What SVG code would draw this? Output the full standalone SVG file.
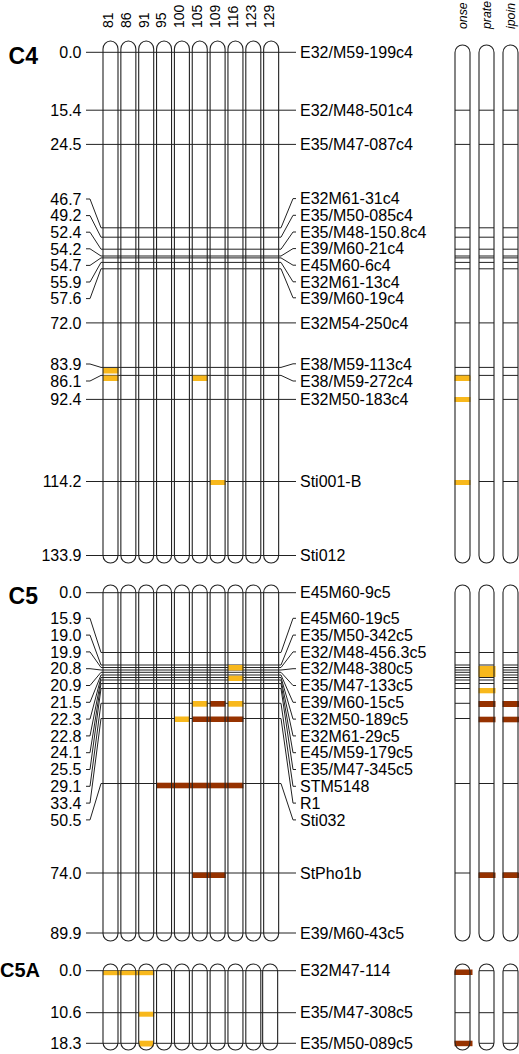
<svg xmlns="http://www.w3.org/2000/svg" xmlns:xlink="http://www.w3.org/1999/xlink" width="519" height="1054" viewBox="0 0 519 1054">
<style>
text{font-family:"Liberation Sans",Arial,sans-serif;fill:#000}
.lab{font-size:16px}
.end{text-anchor:end}
.hd{font-size:14px}
.tr{font-size:12.3px;font-style:italic}
.chn{font-size:23px;font-weight:bold;text-anchor:end}
.ln{fill:none;stroke:#222;stroke-width:1}
.chr{fill:none;stroke:#222;stroke-width:1.1}
.y{fill:#F8B81C}
.d{fill:#963200}
</style>
<defs>
<path id="c4m" d="M0,49 A7.5,8 0 0 1 15,49 V555.5 A7.5,7.5 0 0 1 0,555.5 Z"/>
<path id="c4t" d="M0,52.5 A7.5,7.5 0 0 1 15,52.5 V555.5 A7.5,7.5 0 0 1 0,555.5 Z"/>
<path id="c5" d="M0,592.5 A7.5,7.5 0 0 1 15,592.5 V933.5 A7.5,7.5 0 0 1 0,933.5 Z"/>
<path id="c5a" d="M0,971.5 A7.5,7.5 0 0 1 15,971.5 V1042.5 A7.5,7.5 0 0 1 0,1042.5 Z"/>
</defs>
<rect width="519" height="1054" fill="#fff"/>

<g id="headers">
<text class="hd" transform="translate(112.8,28) rotate(-90)">81</text>
<text class="hd" transform="translate(130.7,28) rotate(-90)">86</text>
<text class="hd" transform="translate(148.5,28) rotate(-90)">91</text>
<text class="hd" transform="translate(166.4,28) rotate(-90)">95</text>
<text class="hd" transform="translate(184.2,28) rotate(-90)">100</text>
<text class="hd" transform="translate(202.1,28) rotate(-90)">105</text>
<text class="hd" transform="translate(219.9,28) rotate(-90)">109</text>
<text class="hd" transform="translate(237.8,28) rotate(-90)">116</text>
<text class="hd" transform="translate(255.6,28) rotate(-90)">123</text>
<text class="hd" transform="translate(273.5,28) rotate(-90)">129</text>
<text class="tr" transform="translate(467,29) rotate(-90)">onse</text>
<text class="tr" transform="translate(491,29) rotate(-90)">prate</text>
<text class="tr" transform="translate(515,29) rotate(-90)">ipoin</text>
</g>

<g id="connectors">
<!-- C4 -->
<path class="ln" d="M86,52.3H296"/>
<path class="ln" d="M86,110.2H296"/>
<path class="ln" d="M86,144.4H296"/>
<path class="ln" d="M86,199H90L101,227.8H281L293,198.6H296"/>
<path class="ln" d="M86,215.6H90L101,237.2H281L293,215.3H296"/>
<path class="ln" d="M86,232.2H90L101,249.2H281L293,232H296"/>
<path class="ln" d="M86,248.8H90L101,256H281L293,248.6H296"/>
<path class="ln" d="M86,265.4H90L101,257.9H281L293,265.2H296"/>
<path class="ln" d="M86,282H90L101,262.4H281L293,281.8H296"/>
<path class="ln" d="M86,298.6H90L101,268.8H281L293,297.8H296"/>
<path class="ln" d="M86,322.9H296"/>
<path class="ln" d="M86,364H90L101,367.4H281L293,363.8H296"/>
<path class="ln" d="M86,381H90L101,375.4H281L293,381H296"/>
<path class="ln" d="M86,399.4H296"/>
<path class="ln" d="M86,481.5H296"/>
<path class="ln" d="M86,555.5H296"/>
<!-- C4 traits -->
<path class="ln" d="M455,110.2h15M479,110.2h15M503,110.2h15M455,144.4h15M479,144.4h15M503,144.4h15M455,227.8h15M479,227.8h15M503,227.8h15M455,237.2h15M479,237.2h15M503,237.2h15M455,249.2h15M479,249.2h15M503,249.2h15M455,256h15M479,256h15M503,256h15M455,257.9h15M479,257.9h15M503,257.9h15M455,262.4h15M479,262.4h15M503,262.4h15M455,268.8h15M479,268.8h15M503,268.8h15M455,322.9h15M479,322.9h15M503,322.9h15M455,367.4h15M479,367.4h15M503,367.4h15M455,375.4h15M479,375.4h15M503,375.4h15M455,399.4h15M479,399.4h15M503,399.4h15M455,481.5h15M479,481.5h15M503,481.5h15"/>
<!-- C5 -->
<path class="ln" d="M86,592.7H296"/>
<path class="ln" d="M86,618.3H90L101,652.5H281L293,618.3H296"/>
<path class="ln" d="M86,635.1H90L101,665H281L293,635.1H296"/>
<path class="ln" d="M86,651.9H90L101,667.5H281L293,651.9H296"/>
<path class="ln" d="M86,668.7H90L101,670H281L293,668.7H296"/>
<path class="ln" d="M86,685.5H90L101,672.3H281L293,685.5H296"/>
<path class="ln" d="M86,702.3H90L101,675H281L293,702.3H296"/>
<path class="ln" d="M86,719.1H90L101,677.5H281L293,719.1H296"/>
<path class="ln" d="M86,735.9H90L101,680H281L293,735.9H296"/>
<path class="ln" d="M86,752.7H90L101,683.5H281L293,752.7H296"/>
<path class="ln" d="M86,769.5H90L101,688.5H281L293,769.5H296"/>
<path class="ln" d="M86,786.3H90L101,703.3H281L293,786.3H296"/>
<path class="ln" d="M86,803.1H90L101,718.5H281L293,803.1H296"/>
<path class="ln" d="M86,819.9H90L101,783.5H281L293,819.9H296"/>
<path class="ln" d="M86,873H296"/>
<path class="ln" d="M86,933H296"/>
<!-- C5 traits -->
<path class="ln" d="M455,652.5h15M479,652.5h15M503,652.5h15M455,665h15M479,665h15M503,665h15M455,667.5h15M479,667.5h15M503,667.5h15M455,670h15M479,670h15M503,670h15M455,672.3h15M479,672.3h15M503,672.3h15M455,675h15M479,675h15M503,675h15M455,677.5h15M479,677.5h15M503,677.5h15M455,680h15M479,680h15M503,680h15M455,683.5h15M479,683.5h15M503,683.5h15M455,688.5h15M479,688.5h15M503,688.5h15M455,703.3h15M479,703.3h15M503,703.3h15M455,718.5h15M479,718.5h15M503,718.5h15M455,783.5h15M479,783.5h15M503,783.5h15M455,873h15M479,873h15M503,873h15"/>
<!-- C5A -->
<path class="ln" d="M86,970.7H296"/>
<path class="ln" d="M86,1012.7H296"/>
<path class="ln" d="M86,1043.3H296"/>
<path class="ln" d="M455,970.7h15M479,970.7h15M503,970.7h15M455,1012.7h15M479,1012.7h15M503,1012.7h15M455,1043.3h15M479,1043.3h15M503,1043.3h15"/>
</g>

<g id="C4">
<text class="chn" x="38" y="63.5">C4</text>
<g class="lab end">
<text x="81.5" y="58">0.0</text>
<text x="81.5" y="115.9">15.4</text>
<text x="81.5" y="150.1">24.5</text>
<text x="81.5" y="204.7">46.7</text>
<text x="81.5" y="221.3">49.2</text>
<text x="81.5" y="237.9">52.4</text>
<text x="81.5" y="254.5">54.2</text>
<text x="81.5" y="271.1">54.7</text>
<text x="81.5" y="287.7">55.9</text>
<text x="81.5" y="304.3">57.6</text>
<text x="81.5" y="328.6">72.0</text>
<text x="81.5" y="369.7">83.9</text>
<text x="81.5" y="386.7">86.1</text>
<text x="81.5" y="405.1">92.4</text>
<text x="81.5" y="487.2">114.2</text>
<text x="81.5" y="561.2">133.9</text>
</g>
<g class="lab">
<text x="300" y="58">E32/M59-199c4</text>
<text x="300" y="115.9">E32/M48-501c4</text>
<text x="300" y="150.1">E35/M47-087c4</text>
<text x="300" y="204.3">E32M61-31c4</text>
<text x="300" y="221">E35/M50-085c4</text>
<text x="300" y="237.7">E35/M48-150.8c4</text>
<text x="300" y="254.3">E39/M60-21c4</text>
<text x="300" y="270.9">E45M60-6c4</text>
<text x="300" y="287.5">E32M61-13c4</text>
<text x="300" y="303.5">E39/M60-19c4</text>
<text x="300" y="328.6">E32M54-250c4</text>
<text x="300" y="369.5">E38/M59-113c4</text>
<text x="300" y="386.7">E38/M59-272c4</text>
<text x="300" y="405.1">E32M50-183c4</text>
<text x="300" y="487.2">Sti001-B</text>
<text x="300" y="561.2">Sti012</text>
</g>
<rect class="y" x="103" y="368" width="15.5" height="5.5"/>
<rect class="y" x="103" y="375.5" width="15.5" height="5.5"/>
<rect class="y" x="192.25" y="375.5" width="15.5" height="5.5"/>
<rect class="y" x="210.1" y="480" width="15.5" height="5"/>
<rect class="y" x="454.5" y="375.5" width="16" height="5.5"/>
<rect class="y" x="454.5" y="397" width="16" height="5"/>
<rect class="y" x="454.5" y="480" width="16" height="5"/>
<g class="chr">
<use xlink:href="#c4m" x="103"/><use xlink:href="#c4m" x="120.85"/><use xlink:href="#c4m" x="138.7"/><use xlink:href="#c4m" x="156.55"/><use xlink:href="#c4m" x="174.4"/><use xlink:href="#c4m" x="192.25"/><use xlink:href="#c4m" x="210.1"/><use xlink:href="#c4m" x="227.95"/><use xlink:href="#c4m" x="245.8"/><use xlink:href="#c4m" x="263.65"/>
<use xlink:href="#c4t" x="455"/><use xlink:href="#c4t" x="479"/><use xlink:href="#c4t" x="503"/>
</g>
</g>

<g id="C5">
<text class="chn" x="38" y="604">C5</text>
<g class="lab end">
<text x="81.5" y="598.4">0.0</text>
<text x="81.5" y="624">15.9</text>
<text x="81.5" y="640.8">19.0</text>
<text x="81.5" y="657.6">19.9</text>
<text x="81.5" y="674.4">20.8</text>
<text x="81.5" y="691.2">20.9</text>
<text x="81.5" y="708">21.5</text>
<text x="81.5" y="724.8">22.3</text>
<text x="81.5" y="741.6">22.8</text>
<text x="81.5" y="758.4">24.1</text>
<text x="81.5" y="775.2">25.5</text>
<text x="81.5" y="792">29.1</text>
<text x="81.5" y="808.8">33.4</text>
<text x="81.5" y="825.6">50.5</text>
<text x="81.5" y="878.7">74.0</text>
<text x="81.5" y="938.7">89.9</text>
</g>
<g class="lab">
<text x="300" y="598.4">E45M60-9c5</text>
<text x="300" y="624">E45M60-19c5</text>
<text x="300" y="640.8">E35/M50-342c5</text>
<text x="300" y="657.6">E32/M48-456.3c5</text>
<text x="300" y="674.4">E32/M48-380c5</text>
<text x="300" y="691.2">E35/M47-133c5</text>
<text x="300" y="708">E39/M60-15c5</text>
<text x="300" y="724.8">E32M50-189c5</text>
<text x="300" y="741.6">E32M61-29c5</text>
<text x="300" y="758.4">E45/M59-179c5</text>
<text x="300" y="775.2">E35/M47-345c5</text>
<text x="300" y="792">STM5148</text>
<text x="300" y="808.8">R1</text>
<text x="300" y="825.6">Sti032</text>
<text x="300" y="878.7">StPho1b</text>
<text x="300" y="938.7">E39/M60-43c5</text>
</g>
<rect class="y" x="227.95" y="665" width="15.5" height="5.5"/>
<rect class="y" x="227.95" y="675.7" width="15.5" height="5.3"/>
<rect class="y" x="192.25" y="701" width="15.5" height="5.7"/>
<rect class="d" x="210.1" y="701" width="15.5" height="5.7"/>
<rect class="y" x="227.95" y="701" width="15.5" height="5.7"/>
<rect class="y" x="174.4" y="716.5" width="15.5" height="5.5"/>
<rect class="d" x="192.25" y="716.5" width="51.2" height="5.5"/>
<rect class="d" x="156.55" y="782.7" width="86.9" height="5.6"/>
<rect class="d" x="192.25" y="872.5" width="33.4" height="5.5"/>
<rect class="y" x="478.5" y="666" width="17" height="11"/>
<rect class="y" x="478.5" y="688" width="17" height="5.3"/>
<rect class="d" x="478.5" y="701" width="17" height="6"/>
<rect class="d" x="478.5" y="716.7" width="17" height="5.6"/>
<rect class="d" x="478.5" y="872.5" width="17" height="5.5"/>
<rect class="d" x="502.5" y="701" width="17" height="6"/>
<rect class="d" x="502.5" y="716.7" width="17" height="5.6"/>
<rect class="d" x="502.5" y="872.5" width="17" height="5.5"/>
<g class="chr">
<use xlink:href="#c5" x="103"/><use xlink:href="#c5" x="120.85"/><use xlink:href="#c5" x="138.7"/><use xlink:href="#c5" x="156.55"/><use xlink:href="#c5" x="174.4"/><use xlink:href="#c5" x="192.25"/><use xlink:href="#c5" x="210.1"/><use xlink:href="#c5" x="227.95"/><use xlink:href="#c5" x="245.8"/><use xlink:href="#c5" x="263.65"/>
<use xlink:href="#c5" x="455"/><use xlink:href="#c5" x="479"/><use xlink:href="#c5" x="503"/>
</g>
</g>

<g id="C5A">
<text class="chn" x="40" y="977" style="font-size:20px">C5A</text>
<g class="lab end">
<text x="81.5" y="976.4">0.0</text>
<text x="81.5" y="1018.4">10.6</text>
<text x="81.5" y="1049">18.3</text>
</g>
<g class="lab">
<text x="300" y="976.4">E32M47-114</text>
<text x="300" y="1018.4">E35/M47-308c5</text>
<text x="300" y="1049">E35/M50-089c5</text>
</g>
<rect class="y" x="103" y="970.7" width="51.2" height="4.5"/>
<rect class="y" x="138.7" y="1011.7" width="15.5" height="5"/>
<rect class="y" x="139.2" y="1040.7" width="14.5" height="5.8"/>
<rect class="d" x="454.5" y="969.5" width="18" height="5.5"/>
<rect class="d" x="454.5" y="1040.7" width="18" height="5.5"/>
<g class="chr">
<use xlink:href="#c5a" x="103"/><use xlink:href="#c5a" x="120.85"/><use xlink:href="#c5a" x="138.7"/><use xlink:href="#c5a" x="156.55"/><use xlink:href="#c5a" x="174.4"/><use xlink:href="#c5a" x="192.25"/><use xlink:href="#c5a" x="210.1"/><use xlink:href="#c5a" x="227.95"/><use xlink:href="#c5a" x="245.8"/><use xlink:href="#c5a" x="262.65"/>
<use xlink:href="#c5a" x="455"/><use xlink:href="#c5a" x="479"/><use xlink:href="#c5a" x="503"/>
</g>
</g>
</svg>
